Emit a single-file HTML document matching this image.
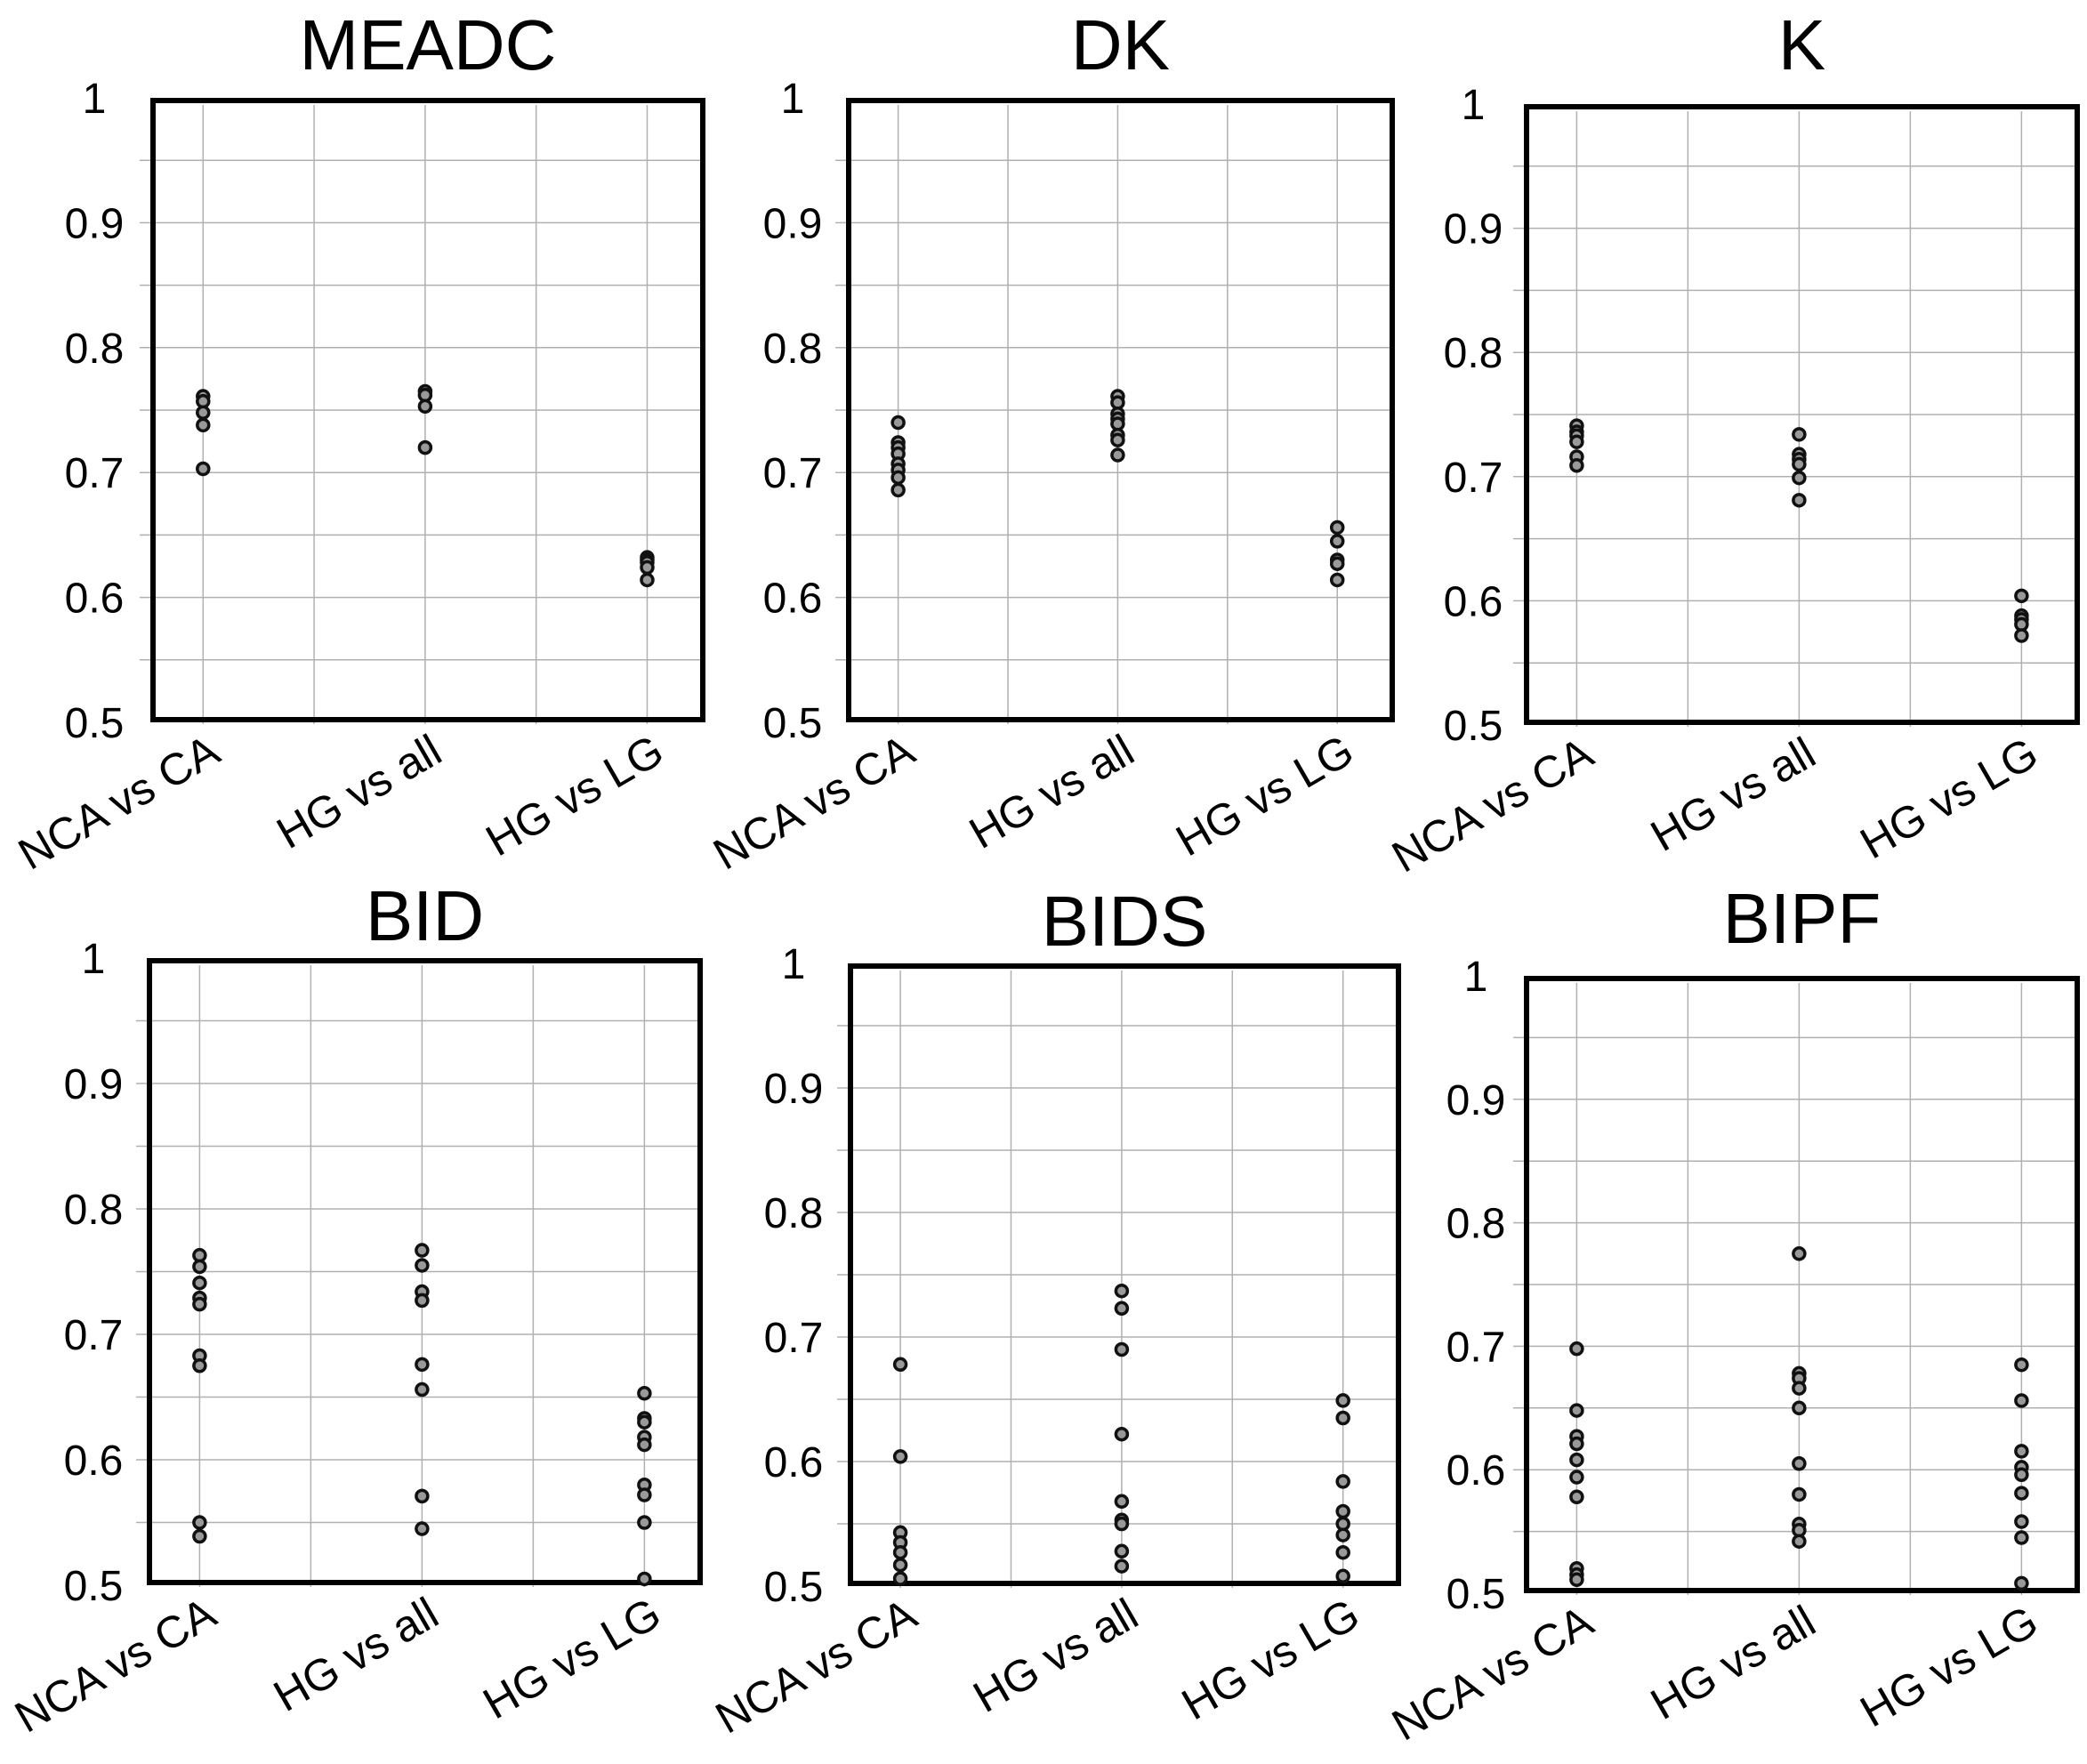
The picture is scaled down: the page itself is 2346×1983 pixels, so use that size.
<!DOCTYPE html>
<html><head><meta charset="utf-8"><style>
html,body{margin:0;padding:0;background:#fff;}
svg{display:block;font-family:"Liberation Sans",sans-serif;}
</style></head><body>
<svg id="chart" width="2346" height="1983" viewBox="0 0 2346 1983" xmlns="http://www.w3.org/2000/svg"></svg>
<script>
const categories = ["NCA vs CA", "HG vs all", "HG vs LG"];
const yTicks = [1, 0.9, 0.8, 0.7, 0.6, 0.5];
const yTickLabels = ["1", "0.9", "0.8", "0.7", "0.6", "0.5"];
const titles = ["MEADC", "DK", "K", "BID", "BIDS", "BIPF"];
const meadcNCA = [0.761, 0.757, 0.748, 0.738, 0.703];
const meadcHGall = [0.765, 0.762, 0.753, 0.720];
const meadcHGLG = [0.632, 0.630, 0.628, 0.624, 0.614];
const dkNCA = [0.740, 0.724, 0.720, 0.715, 0.707, 0.702, 0.696, 0.686];
const dkHGall = [0.761, 0.756, 0.747, 0.743, 0.739, 0.730, 0.726, 0.714];
const dkHGLG = [0.656, 0.645, 0.630, 0.627, 0.614];
const kNCA = [0.741, 0.736, 0.733, 0.728, 0.716, 0.709];
const kHGall = [0.734, 0.718, 0.714, 0.710, 0.699, 0.681];
const kHGLG = [0.604, 0.588, 0.585, 0.581, 0.572];
const bidNCA = [0.763, 0.754, 0.741, 0.729, 0.724, 0.683, 0.675, 0.550, 0.539];
const bidHGall = [0.767, 0.755, 0.734, 0.727, 0.676, 0.656, 0.571, 0.545];
const bidHGLG = [0.653, 0.633, 0.630, 0.618, 0.612, 0.580, 0.572, 0.550, 0.505];
const bidsNCA = [0.678, 0.604, 0.543, 0.535, 0.527, 0.517, 0.506];
const bidsHGall = [0.737, 0.723, 0.690, 0.622, 0.568, 0.553, 0.550, 0.528, 0.516];
const bidsHGLG = [0.649, 0.635, 0.584, 0.560, 0.550, 0.541, 0.527, 0.508];
const bipfNCA = [0.698, 0.648, 0.627, 0.621, 0.608, 0.594, 0.578, 0.520, 0.515, 0.511];
const bipfHGall = [0.775, 0.678, 0.674, 0.666, 0.650, 0.605, 0.580, 0.556, 0.551, 0.542];
const bipfHGLG = [0.685, 0.656, 0.615, 0.602, 0.596, 0.581, 0.558, 0.545, 0.508];
const panelSeries = [
  [meadcNCA, meadcHGall, meadcHGLG],
  [dkNCA, dkHGall, dkHGLG],
  [kNCA, kHGall, kHGLG],
  [bidNCA, bidHGall, bidHGLG],
  [bidsNCA, bidsHGall, bidsHGLG],
  [bipfNCA, bipfHGall, bipfHGLG]
];
// layout (not data)
const boxes = [
  {x0:169,x1:793,y0:110,y1:812,lab:106,ty:78},
  {x0:951,x1:1568,y0:110,y1:812,lab:891,ty:78},
  {x0:1713,x1:2338,y0:117,y1:815,lab:1656,ty:78},
  {x0:165,x1:790,y0:1077,y1:1782,lab:105,ty:1057},
  {x0:953,x1:1575,y0:1083,y1:1783,lab:892,ty:1063},
  {x0:1713,x1:2338,y0:1097,y1:1791,lab:1659,ty:1060}
];
const NS = "http://www.w3.org/2000/svg";
const svg = document.getElementById("chart");
function mk(tag, attrs, parent){const e=document.createElementNS(NS,tag);for(const k in attrs)e.setAttribute(k,attrs[k]);(parent||svg).appendChild(e);return e;}

boxes.forEach((b, p) => {
  const g = mk("g", {});
  
  
  const W = b.x1 - b.x0;
  const yS = v => b.y1 - (v - 0.5) / 0.5 * (b.y1 - b.y0);
  const xS = i => b.x0 + W * (0.095 + 0.4 * i);
  for (let k = 1; k < 10; k++) {
    const v = 0.5 + k * 0.05;
    const l = mk("line", {x1:b.x0-12, x2:b.x1-4, y1:yS(v), y2:yS(v), stroke:"#b0b0b0", "stroke-width":1.5}, g);
    
    
  }
  for (let k = 0; k < 5; k++) {
    const x = b.x0 + W * (0.095 + 0.2 * k);
    const l = mk("line", {x1:x, x2:x, y1:b.y0+8, y2:b.y1+2, stroke:"#b0b0b0", "stroke-width":1.5}, g);
    
    
  }
  const r = mk("rect", {x:b.x0+3, y:b.y0+3, width:W-6, height:b.y1-b.y0-6, fill:"none", stroke:"#000", "stroke-width":6}, g);
  
  
  const t = mk("text", {x:(b.x0+b.x1)/2, y:b.ty, "text-anchor":"middle", "font-size":80}, g);
  t.textContent = titles[p];
  
  
  yTicks.forEach((v, i) => {
    const tl = mk("text", {x:b.lab, y:yS(v)+17, "text-anchor":"middle", "font-size":48}, g);
    tl.textContent = yTickLabels[i];
    
    
  });
  categories.forEach((c, i) => {
    const x = xS(i) + 22, y = b.y1 + 42;
    const xl = mk("text", {x:x, y:y, "text-anchor":"end", "font-size":50, transform:`rotate(-30 ${x} ${y})`}, g);
    xl.textContent = c;
    
    
  });
  panelSeries[p].forEach((vals, i) => {
    vals.forEach(v => {
      const c = mk("circle", {cx:xS(i), cy:yS(v), r:6.5, fill:"#999", stroke:"#111", "stroke-width":3.5}, g);
      
      
    });
  });
});
</script>
</body></html>
